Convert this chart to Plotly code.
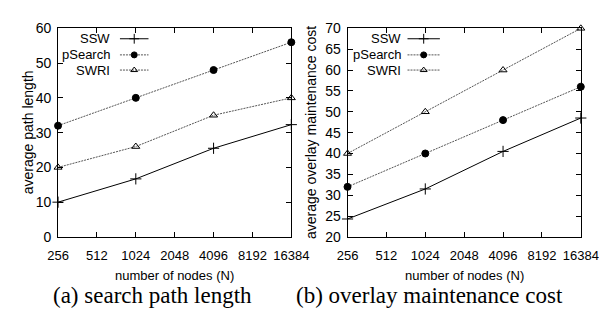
import math
import plotly.graph_objects as go

nodes = [256, 1024, 4096, 16384]
tick_vals = [256, 512, 1024, 2048, 4096, 8192, 16384]
tick_text = [str(v) for v in tick_vals]

series_names = ["SSW", "pSearch", "SWRI"]
path_ssw = [10, 16.7, 25.5, 32.3]
path_psearch = [32, 40, 48, 56]
path_swri = [20, 26, 35, 40]

cost_ssw = [24.3, 31.5, 40.5, 48.5]
cost_psearch = [32, 40, 48, 56]
cost_swri = [40, 50, 60, 70]

styles = {
    "SSW": dict(dash="solid", symbol="cross-thin-open", size=8, color="#000000"),
    "pSearch": dict(dash="2px,1px", symbol="circle", size=7, color="#555555"),
    "SWRI": dict(dash="2px,1px", symbol="triangle-up-open", size=7, color="#555555"),
}

W, H = 607, 309
def px(x):
    return x / W
def py(y):
    return 1 - y / H

fig = go.Figure()

panels = [
    ("x", "y", [path_ssw, path_psearch, path_swri]),
    ("x2", "y2", [cost_ssw, cost_psearch, cost_swri]),
]
for xa, ya, vals in panels:
    for name, v in zip(series_names, vals):
        s = styles[name]
        fig.add_trace(go.Scatter(
            x=nodes, y=v, xaxis=xa, yaxis=ya, mode="lines+markers", name=name,
            showlegend=False, cliponaxis=False,
            line=dict(color=s["color"], width=1, dash=s["dash"]),
            marker=dict(symbol=s["symbol"], size=s["size"], color="#000000",
                        line=dict(color="#000000", width=1)),
        ))

sans = dict(family="Liberation Sans, Arial, sans-serif", size=14, color="#000")
sans_small = dict(family="Liberation Sans, Arial, sans-serif", size=13, color="#000")

# legend samples (gnuplot style: label then sample)
leg_rows = [24, 41, 57]
legend_boxes = [(98, 106, 136), (403, 408, 442)]
annotations = []
for (tx, lx0, lx1) in legend_boxes:
    for name, yy in zip(series_names, leg_rows):
        s = styles[name]
        fig.add_trace(go.Scatter(
            x=[px(lx0), px(lx1)], y=[py(yy), py(yy)], xaxis="x3", yaxis="y3",
            mode="lines", showlegend=False, hoverinfo="skip",
            line=dict(color=s["color"], width=1, dash=s["dash"]),
        ))
        fig.add_trace(go.Scatter(
            x=[px((lx0 + lx1) / 2)], y=[py(yy)], xaxis="x3", yaxis="y3",
            mode="markers", showlegend=False, hoverinfo="skip",
            marker=dict(symbol=s["symbol"], size=s["size"] - 1, color="#000000",
                        line=dict(color="#000000", width=1)),
        ))
        annotations.append(dict(
            x=px(tx), y=py(yy), xref="paper", yref="paper", xanchor="right", yanchor="middle",
            text=name, showarrow=False, font=sans_small,
        ))

xr = [math.log10(256) - 1e-4, math.log10(16384) + 1e-4]
common_x = dict(type="log", tickvals=tick_vals, ticktext=tick_text, range=xr,
                showline=True, linecolor="#000", linewidth=1, mirror="allticks",
                ticks="inside", ticklen=5, tickcolor="#000", showgrid=False, zeroline=False,
                tickfont=sans_small, ticklabelstandoff=6)
common_y = dict(showline=True, linecolor="#000", linewidth=1, mirror="allticks",
                ticks="inside", ticklen=5, tickcolor="#000", showgrid=False, zeroline=False,
                tickfont=sans, ticklabelstandoff=3)

ydom = [py(233), py(13)]
fig.update_layout(
    width=W, height=H, margin=dict(l=0, r=0, t=0, b=0),
    paper_bgcolor="white", plot_bgcolor="rgba(0,0,0,0)", showlegend=False,
    xaxis=dict(common_x, domain=[px(41), px(286)], anchor="y"),
    yaxis=dict(common_y, domain=ydom, range=[0, 60], dtick=10, anchor="x"),
    xaxis2=dict(common_x, domain=[px(345), px(590)], anchor="y2"),
    yaxis2=dict(common_y, domain=ydom, range=[20, 70], dtick=5, anchor="x2"),
    xaxis3=dict(domain=[0, 1], range=[0, 1], visible=False, anchor="y3", fixedrange=True),
    yaxis3=dict(domain=[0, 1], range=[0, 1], visible=False, anchor="x3", fixedrange=True),
)

for cx, title, capx, cap, ylab, ylx in [
    (163, "number of nodes (N)", 140, "(a) search path length", "average path length", 9),
    (468, "number of nodes (N)", 431, "(b) overlay maintenance cost", "average overlay maintenance cost", 306),
]:
    annotations.append(dict(x=px(cx), y=py(274), xref="paper", yref="paper", text=title,
                            showarrow=False, xanchor="center", yanchor="middle", font=sans_small))
    annotations.append(dict(x=px(capx), y=py(295), xref="paper", yref="paper", text=cap,
                            showarrow=False, xanchor="center", yanchor="middle",
                            font=dict(family="Liberation Serif", size=23, color="#000")))
    annotations.append(dict(x=px(ylx), y=py(123), xref="paper", yref="paper", text=ylab,
                            showarrow=False, xanchor="center", yanchor="middle", textangle=-90, font=sans))

fig.update_layout(annotations=annotations)
fig.write_html("out.html")
